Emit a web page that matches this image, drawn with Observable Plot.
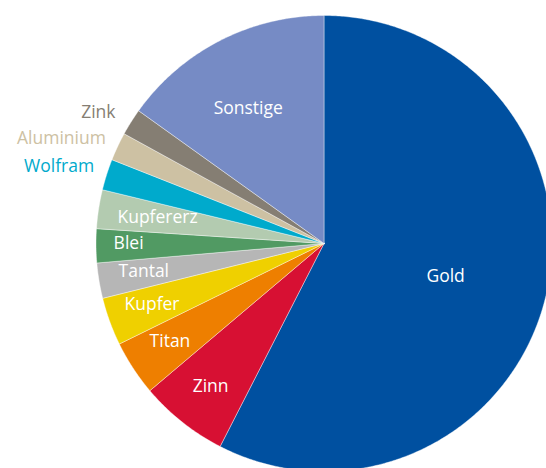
<!DOCTYPE html>
<html>
<head>
<meta charset="utf-8">
<script src="https://cdn.jsdelivr.net/npm/d3@7"></script>
<script src="https://cdn.jsdelivr.net/npm/@observablehq/plot@0.6"></script>
<style>
  html, body { margin: 0; padding: 0; background: #fff; }
  #chart svg { display: block; overflow: hidden; }
</style>
</head>
<body>
<div id="chart"></div>
<script>
// Data: share in percent, clockwise from 12 o'clock
const categories = ["Gold", "Zinn", "Titan", "Kupfer", "Tantal", "Blei", "Kupfererz", "Wolfram", "Aluminium", "Zink", "Sonstige"];
const shares = [57.5, 6.3, 3.9, 3.4, 2.5, 2.4, 2.75, 2.2, 2.0, 1.9, 15.1];
const colors = ["#0050a0", "#d71033", "#ee7f00", "#efd000", "#b6b6b6", "#519a63", "#b3cbb0", "#00aacc", "#cdc1a3", "#857e73", "#768bc5"];

// Label layout (radius as fraction of pie radius, angle nudge in degrees, text colour)
const labelRadius = [0.553, 0.80, 0.80, 0.80, 0.80, 0.857, 0.739, 1.21, 1.24, 1.144, 0.679];
const labelNudge  = [1.7, 0, 0.8, 0.6, 0.5, 0.7, 0.25, -1.4, -3.4, -2.1, -2.1];
const labelColor  = ["#fff", "#fff", "#fff", "#fff", "#fff", "#fff", "#fff", "#00aacc", "#cdc1a3", "#857e73", "#fff"];

const W = 546, H = 468, CX = 323.5, CY = 243, R = 228;

const total = d3.sum(shares);
let acc = 0;
const slices = categories.map((name, i) => {
  const a0 = acc / total * 2 * Math.PI;
  acc += shares[i];
  const a1 = acc / total * 2 * Math.PI;
  return {name, a0, a1, i};
});

// polygon outline of each slice in unit coordinates
const pts = [];
for (const s of slices) {
  pts.push({name: s.name, x: 0, y: 0});
  const n = Math.max(2, Math.ceil((s.a1 - s.a0) / (Math.PI / 360)));
  for (let k = 0; k <= n; k++) {
    const a = s.a0 + (s.a1 - s.a0) * k / n;
    pts.push({name: s.name, x: Math.sin(a), y: Math.cos(a)});
  }
  pts.push({name: s.name, x: 0, y: 0});
}

const labels = slices.map(s => {
  const a = (s.a0 + s.a1) / 2 + labelNudge[s.i] * Math.PI / 180;
  const r = labelRadius[s.i];
  return {name: s.name, x: r * Math.sin(a), y: r * Math.cos(a), color: labelColor[s.i]};
});

const chart = Plot.plot({
  width: W,
  height: H,
  margin: 0,
  x: {domain: [-CX / R, (W - CX) / R], axis: null},
  y: {domain: [(CY - H) / R, CY / R], axis: null},
  color: {domain: categories, range: colors},
  style: {fontFamily: "'Open Sans', sans-serif", background: "#fff"},
  marks: [
    Plot.line(pts, {x: "x", y: "y", z: "name", fill: "name", stroke: "#fff", strokeWidth: 0.4, curve: "linear"}),
    Plot.text(labels, {x: "x", y: "y", text: "name", fill: d => d.color, fontSize: 17.5})
  ]
});
document.getElementById("chart").appendChild(chart);
</script>
</body>
</html>
